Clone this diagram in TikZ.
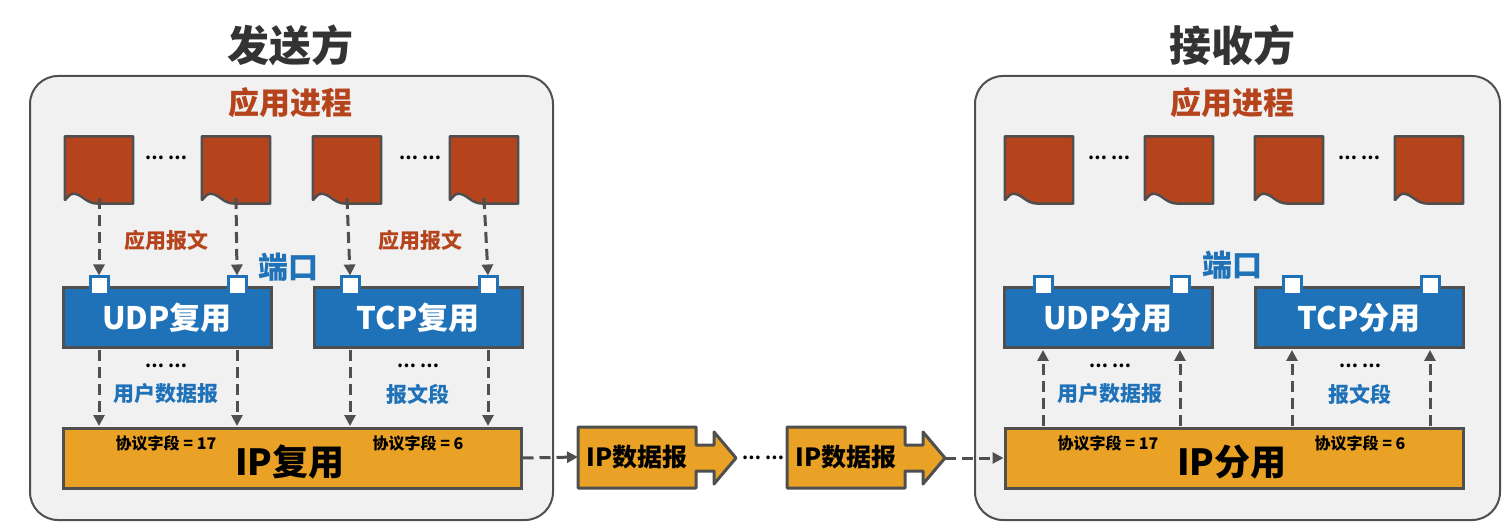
\documentclass[tikz,border=0pt]{standalone}
\usepackage{fontspec}
\setmainfont{Noto Sans CJK SC}
\usetikzlibrary{arrows.meta}
\definecolor{brn}{HTML}{B5441C}
\definecolor{blu}{HTML}{1F72B8}
\definecolor{org}{HTML}{E9A126}
\definecolor{gry}{HTML}{4F4F4F}
\definecolor{pan}{HTML}{F1F1F1}
\tikzset{
  panel/.style={draw=gry,line width=2pt,fill=pan,rounded corners=28pt},
  proto/.style={draw=gry,line width=3pt,fill=blu,text=white,font=\bfseries\fontsize{31}{31}\selectfont,minimum width=208pt,minimum height=60pt,inner sep=0pt},
  ipbox/.style={draw=gry,line width=3pt,fill=org,minimum width=458pt,minimum height=60pt,inner sep=0pt},
  port/.style={draw=blu,line width=3pt,fill=white,minimum size=18pt,inner sep=0pt},
  doc/.style={minimum width=68pt,minimum height=57pt,inner sep=0pt},
  darr/.style={gry,line width=3pt,dash pattern=on 11pt off 6pt,-{Triangle[length=11pt,width=11pt]}},
  dots/.style={font=\bfseries\fontsize{17}{17}\selectfont},
  lbl/.style={font=\bfseries\fontsize{21}{21}\selectfont},
}
\begin{document}
\begin{tikzpicture}[x=1pt,y=-1pt]
\useasboundingbox (0,0) rectangle (1512,526);
\draw[panel] (30,76) rectangle (553,520);
\draw[panel] (975,76) rectangle (1500,520);
\node[font=\bfseries\fontsize{42}{42}\selectfont,text=black!80] (t1) at (290,45) {发送方};
\node[font=\bfseries\fontsize{42}{42}\selectfont,text=black!80] (t2) at (1232,45) {接收方};
\node[font=\bfseries\fontsize{31}{31}\selectfont,text=brn] (ap1) at (290,103) {应用进程};
\node[font=\bfseries\fontsize{31}{31}\selectfont,text=brn] (ap2) at (1232,103) {应用进程};
% documents
\foreach \n/\x in {a/99,b/236,c/347,d/484,e/1039,f/1179,g/1289,h/1429}{
  \node[doc] (\n) at (\x,165) {};
  \draw[gry,line width=2.5pt,fill=brn,line join=round] (\n.north west) -- (\n.north east) -- ([yshift=-10pt]\n.south east)
    -- ([xshift=34pt,yshift=-10pt]\n.south west)
    .. controls +(-14,0) and +(10,0) .. ([xshift=8pt]\n.south west)
    .. controls +(-4,0) and +(0,2) .. ([yshift=-6pt]\n.south west) -- cycle;
}
\foreach \x in {166,420,1109,1359}{\node[dots] at (\x,158) {… …};}
% protocol boxes
\node[proto] (udp) at (167,318) {UDP复用};
\node[proto] (tcp) at (418,318) {TCP复用};
\node[proto] (udp2) at (1108,318) {UDP分用};
\node[proto] (tcp2) at (1359,318) {TCP分用};
\foreach \n/\x in {p1/99,p2/237,p3/350,p4/488,p5/1043,p6/1180,p7/1292,p8/1430}{\node[port] (\n) at (\x,286) {};}
\node[lbl,text=brn] at (166,240) {应用报文};
\node[lbl,text=brn] at (420,240) {应用报文};
\node[font=\bfseries\fontsize{30}{30}\selectfont,text=blu] at (288,267) {端口};
\node[font=\bfseries\fontsize{30}{30}\selectfont,text=blu] at (1232,265) {端口};
\foreach \x in {166,418,1110,1360}{\node[dots] at (\x,366) {… …};}
\node[lbl,text=blu] at (166,394) {用户数据报};
\node[lbl,text=blu] at (418,394) {报文段};
\node[lbl,text=blu] at (1110,394) {用户数据报};
\node[lbl,text=blu] at (1360,394) {报文段};
% IP boxes
\node[ipbox] (ip1) at (292,458) {};
\node[ipbox] (ip2) at (1234,458) {};
\node[font=\bfseries\fontsize{36}{36}\selectfont] at (290,462) {IP复用};
\node[font=\bfseries\fontsize{36}{36}\selectfont] at (1232,462) {IP分用};
\node[font=\bfseries\fontsize{16}{16}\selectfont] at (166,443) {协议字段 = 17};
\node[font=\bfseries\fontsize{16}{16}\selectfont] at (418,443) {协议字段 = 6};
\node[font=\bfseries\fontsize{16}{16}\selectfont] at (1108,443) {协议字段 = 17};
\node[font=\bfseries\fontsize{16}{16}\selectfont] at (1360,443) {协议字段 = 6};
% sender arrows
\foreach \s/\t in {a/p1,b/p2,c/p3,d/p4}{\draw[darr] (\s.south |- 0,198) -- (\t.north);}
\foreach \x in {99,237,350,488}{\draw[darr] (\x,350) -- (\x,426);}
% receiver arrows (up)
\foreach \x in {1043,1180,1292,1430}{\draw[darr] (\x,426) -- (\x,350);}
% IP datagrams
\foreach \n/\x in {g1/578,g2/787}{
  \draw[gry,line width=3pt,fill=org,line join=round] (\x,427) -- ++(118,0) -- ++(0,18) -- ++(18,0) -- ++(0,-13) -- ++(22,26) -- ++(-22,26) -- ++(0,-13) -- ++(-18,0) -- ++(0,17) -- ++(-118,0) -- cycle;
  \node[font=\bfseries\fontsize{25}{25}\selectfont,minimum width=118pt,minimum height=60pt,inner sep=0pt,anchor=west] (\n) at (\x,457) {IP数据报};
}
\node[dots] (md) at (763,458) {… …};
\draw[darr] (ip1.east) -- (g1.west);
\draw[darr] (945,458) -- (ip2.west);
\end{tikzpicture}
\end{document}
